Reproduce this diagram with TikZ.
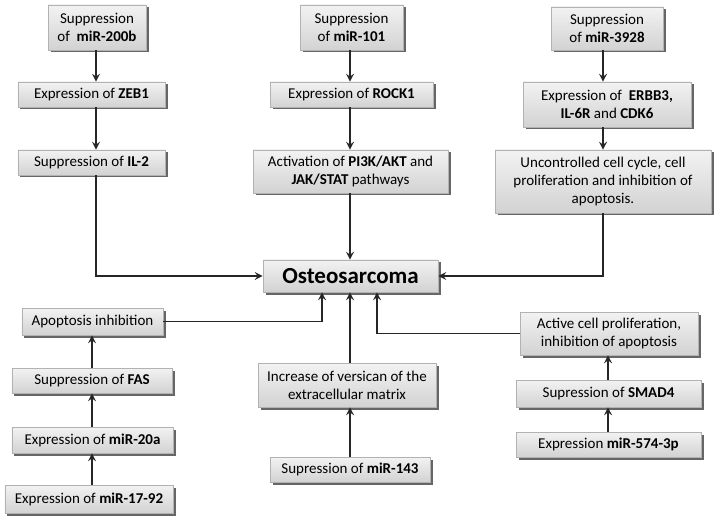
\documentclass[tikz,border=0pt]{standalone}
\usepackage{fontspec}
\setmainfont{Carlito}
\usetikzlibrary{arrows.meta,shadows,calc}
\begin{document}
\begin{tikzpicture}[x=1bp,y=-1bp,
  box/.style={rectangle, draw=gray!60, line width=0.6bp, top color=gray!10, bottom color=gray!35,
    inner sep=0pt, align=center, font=\fontsize{15bp}{18bp}\selectfont,
    drop shadow={shadow xshift=2.5bp, shadow yshift=-2.5bp, fill=black!70, opacity=0.85}},
  arr/.style={line width=1.7bp, draw=black!85, -{Stealth[length=8bp,width=8bp,inset=3bp]}}]
\useasboundingbox (0,0) rectangle (718,520);
\fill[white] (0,0) rectangle (718,520);
% column 1
\node[box, minimum width=98bp, minimum height=45bp] (b1) at (97,27.5) {Suppression\\of \ \textbf{miR-200b}};
\node[box, minimum width=147bp, minimum height=25bp] (b2) at (91.5,94.5) {Expression of \textbf{ZEB1}};
\node[box, minimum width=147bp, minimum height=25bp] (b3) at (91.5,162.5) {Suppression of \textbf{IL-2}};
% column 2
\node[box, minimum width=103bp, minimum height=45bp] (b4) at (351.5,27.5) {Suppression\\of \textbf{miR-101}};
\node[box, minimum width=163bp, minimum height=25bp] (b5) at (351.5,94.5) {Expression of \textbf{ROCK1}};
\node[box, minimum width=195bp, minimum height=43bp] (b6) at (350.5,171.5) {Activation of \textbf{PI3K/AKT} and\\\textbf{JAK/STAT} pathways};
% column 3
\node[box, minimum width=112bp, minimum height=43bp] (b7) at (607,28.5) {Suppression\\of \textbf{miR-3928}};
\node[box, minimum width=168bp, minimum height=45bp] (b8) at (607,104.5) {Expression of \ \textbf{ERBB3,}\\\textbf{IL-6R} and \textbf{CDK6}};
\node[box, minimum width=216bp, minimum height=63bp] (b9) at (603,181.5) {Uncontrolled cell cycle, cell\\proliferation and inhibition of\\apoptosis.};
% center
\node[box, minimum width=175bp, minimum height=32bp, font=\fontsize{23bp}{26bp}\selectfont\bfseries] (os) at (350.5,276) {Osteosarcoma};
% lower left
\node[box, minimum width=141bp, minimum height=27bp] (b11) at (92.5,321.5) {Apoptosis inhibition};
\node[box, minimum width=160bp, minimum height=25bp] (b12) at (92,380.5) {Suppression of \textbf{FAS}};
\node[box, minimum width=161bp, minimum height=26bp] (b13) at (92.5,440) {Expression of \textbf{miR-20a}};
\node[box, minimum width=168bp, minimum height=28bp] (b14) at (89,499) {Expression of \textbf{miR-17-92}};
% lower middle
\node[box, minimum width=178bp, minimum height=44bp] (b15) at (347,385) {Increase of versican of the\\extracellular matrix};
\node[box, minimum width=160bp, minimum height=25bp] (b16) at (350,469.5) {Supression of \textbf{miR-143}};
% lower right
\node[box, minimum width=178bp, minimum height=43bp] (b17) at (609,333.5) {Active cell proliferation,\\inhibition of apoptosis};
\node[box, minimum width=185bp, minimum height=27bp] (b18) at (608.5,393.5) {Supression of \textbf{SMAD4}};
\node[box, minimum width=185bp, minimum height=25bp] (b19) at (608.5,444.5) {Expression \textbf{miR-574-3p}};
% helper coordinates
\coordinate (c1) at (96,0);
\coordinate (c2) at (350,0);
\coordinate (c3) at (603,0);
\coordinate (c4) at (92,0);
\coordinate (cl) at (322,0);
\coordinate (cr) at (377,0);
\coordinate (c5) at (608,0);
% arrows column 1
\draw[arr] (b1.south -| c1) -- (b2.north -| c1);
\draw[arr] (b2.south -| c1) -- (b3.north -| c1);
\draw[arr] (b3.south -| c1) |- (os.west);
% column 2
\draw[arr] (b4.south -| c2) -- (b5.north -| c2);
\draw[arr] (b5.south -| c2) -- (b6.north -| c2);
\draw[arr] (b6.south -| c2) -- (os.north -| c2);
% column 3
\draw[arr] (b7.south -| c3) -- (b8.north -| c3);
\draw[arr] (b8.south -| c3) -- (b9.north -| c3);
\draw[arr] (b9.south -| c3) |- (os.east);
% lower left
\draw[arr] (b14.north -| c4) -- (b13.south -| c4);
\draw[arr] (b13.north -| c4) -- (b12.south -| c4);
\draw[arr] (b12.north -| c4) -- (b11.south -| c4);
\draw[arr] (b11.east) -| (os.south -| cl);
% lower middle
\draw[arr] (b16.north -| c2) -- (b15.south -| c2);
\draw[arr] (b15.north -| c2) -- (os.south -| c2);
% lower right
\draw[arr] (b19.north -| c5) -- (b18.south -| c5);
\draw[arr] (b18.north -| c5) -- (b17.south -| c5);
\draw[arr] (b17.west) -| (os.south -| cr);
\end{tikzpicture}
\end{document}
